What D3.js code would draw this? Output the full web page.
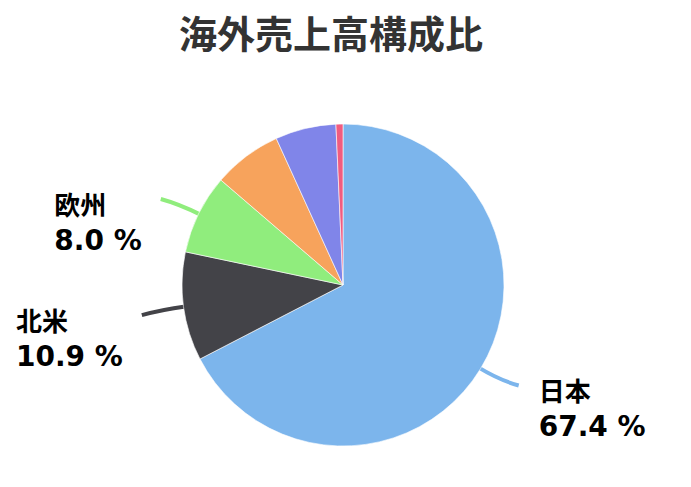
<!DOCTYPE html>
<html><head><meta charset="utf-8">
<script src="https://cdn.jsdelivr.net/npm/d3@7"></script>
<style>
html,body{margin:0;padding:0;background:#fff;}
</style></head>
<body>
<svg id="chart" width="691" height="487"></svg>
<script>
const titleText = "海外売上高構成比";
const categories = ["日本", "北米", "欧州", "アジア", "中国", "その他"];
const values = [67.4, 10.9, 8.0, 6.9, 6.1, 0.7];
const colors = ["#7cb5ec", "#434348", "#90ed7d", "#f7a35c", "#8085e9", "#f15c80"];
const labelShown = [true, true, true, false, false, false];

const svg = d3.select("#chart");
const cx = 343, cy = 285, r = 161;

svg.append("text")
  .attr("x", 331).attr("y", 48)
  .attr("text-anchor", "middle")
  .attr("font-family", "'Noto Sans CJK JP', 'Noto Sans', sans-serif")
  .attr("font-weight", "bold")
  .attr("font-size", 38)
  .attr("fill", "#333333")
  .text(titleText);

const data = categories.map((c, i) => ({name: c, value: values[i], color: colors[i], show: labelShown[i]}));
const pie = d3.pie().sort(null).value(d => d.value);
const arcs = pie(data);
const arc = d3.arc().innerRadius(0).outerRadius(r);

const g = svg.append("g").attr("transform", `translate(${cx},${cy})`);

const conn = g.append("g");
const labels = svg.append("g");
arcs.forEach(a => {
  if (!a.data.show) return;
  const mid = (a.startAngle + a.endAngle) / 2;
  const dx = Math.sin(mid), dy = -Math.cos(mid);
  const p0 = [dx * (r - 2), dy * (r - 2)];
  const p1 = [dx * (r + 22), dy * (r + 22)];
  const pe = [dx * (r + 40), dy * (r + 40)];
  const right = dx > 0;
  const end = [pe[0] + (right ? 4 : -2), pe[1] + (right ? -4 : 3)];
  conn.append("path")
    .attr("d", `M${p0[0]},${p0[1]} Q${p1[0]},${p1[1]} ${end[0]},${end[1]}`)
    .attr("fill", "none")
    .attr("stroke", a.data.color)
    .attr("stroke-width", 4);
  const lx = cx + end[0] + (right ? 20 : -19);
  const ly = cy + end[1];
  const t = labels.append("text")
    .attr("x", lx).attr("y", ly + 16)
    .attr("font-family", "'DejaVu Sans', Verdana, sans-serif")
    .attr("font-weight", "bold")
    .attr("fill", "#000");
  t.append("tspan").attr("x", lx).attr("dy", 0)
    .attr("font-size", 26)
    .attr("font-family", "'Noto Sans CJK JP', sans-serif")
    .text(a.data.name);
  t.append("tspan").attr("x", lx).attr("dy", 35)
    .attr("font-size", 28)
    .text(a.data.value.toFixed(1) + " %");
  if (!right) {
    const w = t.node().getBBox().width;
    t.selectAll("tspan").attr("x", lx - w);
  }
});

g.selectAll("path.slice").data(arcs).enter().append("path")
  .attr("class", "slice")
  .attr("d", arc)
  .attr("fill", d => d.data.color)
  .attr("stroke", "#ffffff")
  .attr("stroke-width", 0.6)
  .attr("stroke-linejoin", "round");
</script>
</body></html>
